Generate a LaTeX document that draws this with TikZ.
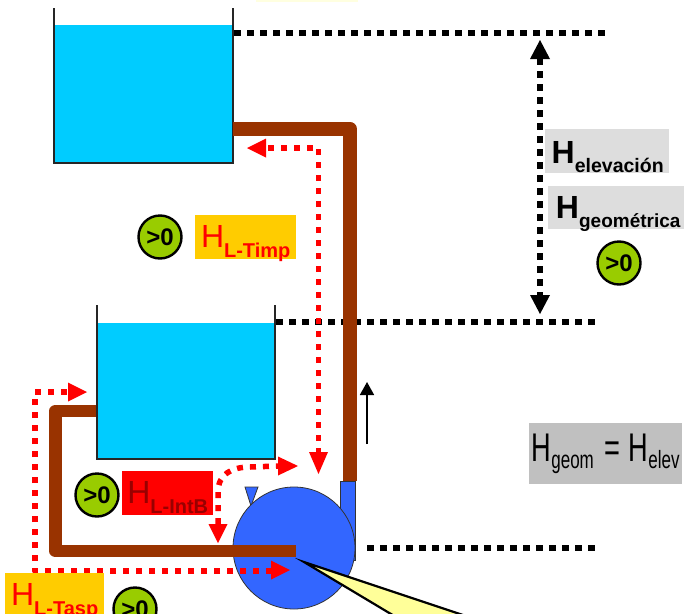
\documentclass[tikz,border=0pt]{standalone}
\usepackage{fontspec}
\setmainfont{Liberation Sans}
\usetikzlibrary{arrows.meta}
\definecolor{water}{HTML}{00CCFF}
\definecolor{pipe}{HTML}{993300}
\definecolor{pumpblue}{HTML}{3366FF}
\definecolor{okgreen}{HTML}{99CC00}
\definecolor{orangebox}{HTML}{FFCC00}
\definecolor{graybox}{HTML}{DDDDDD}
\definecolor{darkgray}{HTML}{C0C0C0}
\definecolor{darkred}{HTML}{990000}
\definecolor{callout}{HTML}{FFFF99}
\newcommand{\HS}[1]{{\fontsize{32}{32}\selectfont H}\raisebox{-10pt}{\fontsize{20}{20}\selectfont\bfseries #1}}
\newcommand{\HB}[2]{{\fontsize{32}{32}\selectfont\bfseries H}\raisebox{-9.5pt}{\fontsize{#2}{#2}\selectfont\bfseries #1}}
\tikzset{
  x=1pt,y=-1pt,
  tank/.style={fill=water,draw=none,inner sep=0,anchor=north west},
  wall/.style={draw=black!85,line width=1.3pt},
  pipeline/.style={draw=pipe,line join=round},
  reddots/.style={draw=red,line width=5.5pt,dash pattern=on 6pt off 7pt,line join=round},
  blackdots/.style={draw=black,line width=5.5pt,dash pattern=on 6.5pt off 6.5pt},
  tipR/.style={fill=red,draw=none},
  pos0/.style={circle,draw=black,line width=2.4pt,fill=okgreen,minimum size=43pt,inner sep=0,font=\fontsize{24}{24}\selectfont\bfseries},
  losslabel/.style={inner sep=0,anchor=north west,text height=32pt,text depth=12pt},
  graylabel/.style={inner sep=0,anchor=north west,fill=graybox},
}
\begin{document}
\begin{tikzpicture}
\useasboundingbox (0,0) rectangle (684,613);
% sliver of box cut at the top edge
\fill[callout!30] (256,0) rectangle (358,1.5);
% tanks
\node[tank,minimum width=179pt,minimum height=138pt] (tankA) at (54,25) {};
\node[tank,minimum width=178pt,minimum height=136pt] (tankB) at (97,323) {};
\draw[wall] (54,8) -- (54,163) -- (233,163) -- (233,8);
\draw[wall] (97,305) -- (97,459) -- (275,459) -- (275,305);
% level lines
\coordinate (topL) at (234,33); \coordinate (topR) at (605,33);
\coordinate (midL) at (276,322); \coordinate (midR) at (595,322);
\coordinate (lowL) at (367,548); \coordinate (lowR) at (597,548);
\draw[blackdots] (topL) -- (topR);
\draw[blackdots] (midL) -- (midR);
\draw[blackdots] (lowL) -- (lowR);
% pump
\draw[fill=pumpblue,draw=black!80,line width=.8pt] (340,481) rectangle (355,560);
\draw[fill=pumpblue,draw=black!80,line width=.8pt] (245,487) -- (258,487) -- (251,506) -- cycle;
\node[circle,fill=pumpblue,draw=black!80,line width=.8pt,minimum size=122pt,inner sep=0] (pump) at (294,548) {};
% pipes
\coordinate (aOut) at (233,128.5); \coordinate (aCorner) at (349.5,128.5); \coordinate (aEnd) at (349.5,481);
\draw[pipeline,line width=14pt] (aOut) -- (aCorner) -- (aEnd);
\coordinate (bOut) at (96,411); \coordinate (bC1) at (55.5,411); \coordinate (bC2) at (55.5,551); \coordinate (bEnd) at (296,551);
\draw[pipeline,line width=12.5pt] (bOut) -- (bC1) -- (bC2) -- (bEnd);
% callout
\coordinate (cTip) at (304,562); \coordinate (cA) at (401,620); \coordinate (cB) at (478,620);
\draw[fill=callout,draw=black,line width=2.2pt,line join=miter] (cA) -- (cTip) -- (cB);
% red paths
\coordinate (tDown) at (318.5,454); \coordinate (tCorner) at (318.5,148); \coordinate (tLeft) at (265,148);
\draw[reddots] (tDown) -- (tCorner) -- (tLeft);
\fill[tipR] (247,148) -- (266,138.5) -- (266,157.5) -- cycle;
\fill[tipR] (318.5,474) -- (309,452) -- (328,452) -- cycle;
\coordinate (iDown) at (218,524); \coordinate (iRight) at (279,466);
\draw[reddots] (iDown) -- (218,492) .. controls (218,474) and (232,467) .. (250,467) -- (iRight);
\fill[tipR] (298,466) -- (278,456.5) -- (278,475.5) -- cycle;
\fill[tipR] (218,543) -- (208.5,524) -- (227.5,524) -- cycle;
\coordinate (sEnd) at (272,571); \coordinate (sC1) at (35,571); \coordinate (sC2) at (35,392); \coordinate (sTop) at (70,392);
\draw[reddots] (sEnd) -- (sC1) -- (sC2) -- (sTop);
\fill[tipR] (290,570) -- (271,560.5) -- (271,579.5) -- cycle;
\fill[tipR] (87,392) -- (68,382.5) -- (68,401.5) -- cycle;
% elevation arrow
\coordinate (eTop) at (540,58); \coordinate (eBot) at (540,296);
\draw[blackdots,line width=5.5pt] (eTop) -- (eBot);
\fill[black] (540,40) -- (530,59) -- (550,59) -- cycle;
\fill[black] (540,314) -- (530,295) -- (550,295) -- cycle;
% flow arrow
\coordinate (fBot) at (367,444); \coordinate (fTop) at (367,382);
\draw[line width=1.6pt,-{Triangle[width=14pt,length=13pt]}] (fBot) -- (fTop);
% labels
\node[losslabel,fill=orangebox,text=red,minimum width=101pt,minimum height=44pt] (timp) at (195,215) {\HS{L-Timp}};
\node[losslabel,fill=red,text=darkred,minimum width=91pt,minimum height=44pt] (intb) at (122,471) {\HS{L-IntB}};
\node[losslabel,fill=orangebox,text=red,minimum width=99pt,minimum height=44pt] (tasp) at (5,573) {\HS{L-Tasp}};
\node[graylabel,minimum width=124pt,minimum height=44pt,text height=34pt,text depth=10pt] (helev) at (545,129) {\hspace*{1pt}\HB{elevación}{19.5}};
\node[graylabel,minimum width=136pt,minimum height=43pt,text height=32pt,text depth=11pt] (hgeo) at (548,186) {\hspace*{4pt}\HB{geométrica}{19}};
\node[inner sep=0,anchor=north west,fill=darkgray,minimum width=153pt,minimum height=61pt,text height=38pt,text depth=23pt] (eq) at (529,423) {\scalebox{.68}[1]{\fontsize{40}{40}\selectfont H\raisebox{-7pt}{\fontsize{25}{25}\selectfont geom}\hspace{15pt}=\hspace{13pt}H\raisebox{-7pt}{\fontsize{25}{25}\selectfont elev}}};
\node[pos0] (p1) at (160,237) {>0};
\node[pos0] (p2) at (97,495) {>0};
\node[pos0] (p3) at (135,609) {>0};
\node[pos0] (p4) at (619,263) {>0};
\end{tikzpicture}
\end{document}
